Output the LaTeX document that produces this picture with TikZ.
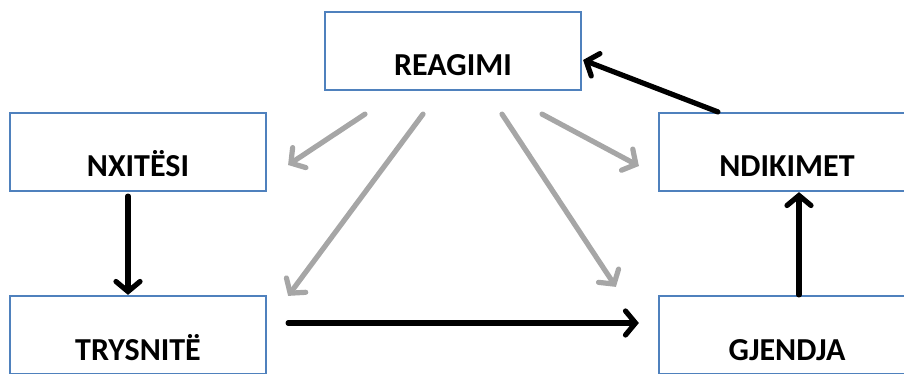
\documentclass[tikz,border=0pt]{standalone}
\usepackage{fontspec}
\setmainfont{Carlito}
\usepackage{tikz}
\usetikzlibrary{arrows.meta}
\definecolor{boxblue}{RGB}{79,129,189}
\definecolor{arrowgray}{RGB}{166,166,166}

\begin{document}
\begin{tikzpicture}[x=1pt,y=-1pt,
		stagebox/.style={draw=boxblue,line width=2.2pt,inner xsep=0pt,inner ysep=0pt,
			text width=256pt,align=center,text height=64pt,text depth=14pt,
			font=\fontsize{32}{32}\selectfont\bfseries},
		blackarrow/.style={line width=5.2pt,line cap=round,-{Straight Barb[length=10pt,width=24pt,line cap=round]}},
		grayarrow/.style={line width=5.2pt,line cap=round,draw=arrowgray,-{Straight Barb[length=10pt,width=24pt,line cap=round]}}]
		\useasboundingbox (0,0) rectangle (904,374);
		\clip (0,0) rectangle (904,374);
		
		% boxes
		\node[stagebox] (reagimi) at (453,51) {REAGIMI};
		\node[stagebox] (nxitesi) at (138,152) {NXITËSI};
		\node[stagebox] (ndikimet) at (787,152) {NDIKIMET};
		\node[stagebox] (trysnite) at (138,335) {TRYSNITË};
		\node[stagebox] (gjendja) at (787,335) {GJENDJA};
		
		% gray arrows out of the reaction
		\draw[grayarrow] ([xshift=-88,yshift=-23]reagimi.south) -- ([xshift=21,yshift=-13]nxitesi.east);
		\draw[grayarrow] ([xshift=-30,yshift=-23]reagimi.south) -- ([xshift=21,yshift=-1]trysnite.north east);
		\draw[grayarrow] ([xshift=49,yshift=-23]reagimi.south) -- ([xshift=-42,yshift=8]gjendja.north west);
		\draw[grayarrow] ([xshift=89,yshift=-23]reagimi.south) -- ([xshift=-19,yshift=-14]ndikimet.west);
		
		% black arrows
		\draw[blackarrow] ([xshift=-10,yshift=-4]nxitesi.south) -- ([xshift=-10]trysnite.north);
		\draw[blackarrow] ([xshift=21,yshift=12]trysnite.east) -- ([xshift=-19,yshift=12]gjendja.west);
		\draw[blackarrow] ([xshift=12]gjendja.north) -- ([xshift=12]ndikimet.south);
		\draw[blackarrow] ([xshift=60]ndikimet.north west) -- ([xshift=1,yshift=-9]reagimi.east);
	\end{tikzpicture}
\end{document}
